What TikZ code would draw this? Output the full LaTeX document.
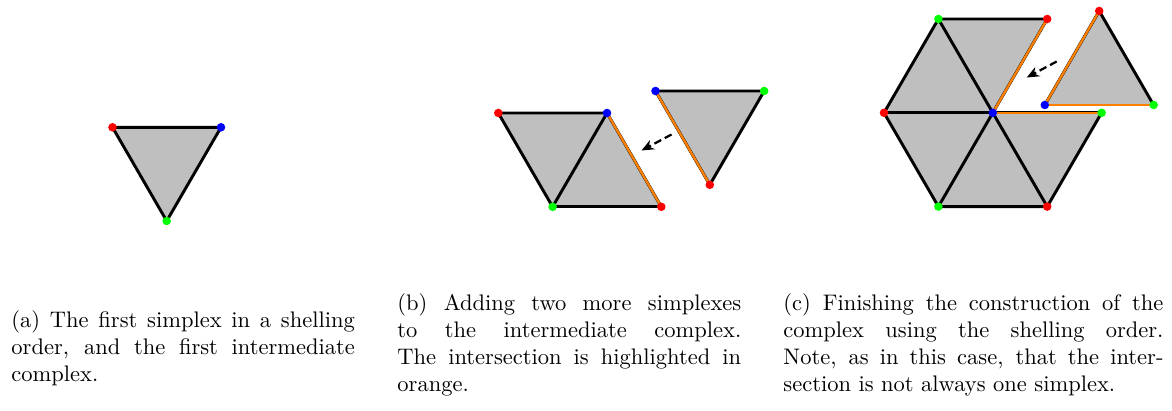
\documentclass[tikz,border=0pt]{standalone}
\usetikzlibrary{arrows.meta}
\begin{document}
\begin{tikzpicture}[x=0.44444pt,y=-0.44444pt,
  face/.style={fill=lightgray},
  edge/.style={draw=black, line width=1.3pt, line cap=round},
  hledge/.style={draw=orange, line width=1.05pt, line cap=round},
  vtx/.style={circle, inner sep=0pt, minimum size=3.8pt, fill=#1},
  movearrow/.style={-{Stealth[length=5.5pt,width=4.6pt]}, line width=1pt, dash pattern=on 3.4pt off 1.8pt},
  captext/.style={anchor=base west, inner sep=0pt, align=justify, font=\normalsize}
]
\useasboundingbox (0,0) rectangle (1172,411);

% ---------- (a) ----------
\coordinate (aR) at (112.5,127.3);
\coordinate (aB) at (221,127.3);
\coordinate (aG) at (166.7,221);
\fill[face] (aR) -- (aB) -- (aG) -- cycle;
\draw[edge] (aR) -- (aB) -- (aG) -- cycle;
\node[vtx=red] (naR) at (aR) {};
\node[vtx=blue] (naB) at (aB) {};
\node[vtx=green] (naG) at (aG) {};

% ---------- (b) ----------
\coordinate (bR1) at (498.3,113);
\coordinate (bB1) at (607,113);
\coordinate (bG1) at (552.6,206.8);
\coordinate (bR2) at (661.3,206.8);
\coordinate (bB2) at (655.5,91);
\coordinate (bG2) at (764.2,91);
\coordinate (bR3) at (709.8,184.8);
\fill[face] (bR1) -- (bB1) -- (bR2) -- (bG1) -- cycle;
\fill[face] (bB2) -- (bG2) -- (bR3) -- cycle;
\draw[edge] (bR1) -- (bB1) -- (bG1) -- cycle;
\draw[edge] (bG1) -- (bR2);
\draw[edge] (bB1) -- (bR2);
\draw[hledge] (bB1) -- (bR2);
\draw[edge] (bB2) -- (bG2) -- (bR3);
\draw[edge] (bB2) -- (bR3);
\draw[hledge] (bB2) -- (bR3);
\node[vtx=red] (nbR1) at (bR1) {};
\node[vtx=blue] (nbB1) at (bB1) {};
\node[vtx=green] (nbG1) at (bG1) {};
\node[vtx=red] (nbR2) at (bR2) {};
\node[vtx=blue] (nbB2) at (bB2) {};
\node[vtx=green] (nbG2) at (bG2) {};
\node[vtx=red] (nbR3) at (bR3) {};
\coordinate (bAs) at (671.5,134.5);
\coordinate (bAe) at (641.5,150.5);
\draw[movearrow] (bAs) -- (bAe);

% ---------- (c) ----------
\coordinate (cC) at (992.8,112.8);
\coordinate (cTL) at (938.4,19);
\coordinate (cTR) at (1047.2,19);
\coordinate (cL) at (884,112.8);
\coordinate (cR) at (1101.6,112.8);
\coordinate (cBL) at (938.4,206.6);
\coordinate (cBR) at (1047.2,206.6);
\coordinate (cT) at (1099.2,11);
\coordinate (cB) at (1044.8,105);
\coordinate (cG) at (1153.6,105);
\fill[face] (cC) -- (cR) -- (cBR) -- (cBL) -- (cL) -- (cTL) -- (cTR) -- cycle;
\fill[face] (cT) -- (cB) -- (cG) -- cycle;
\draw[edge] (cTR) -- (cTL) -- (cL) -- (cBL) -- (cBR) -- (cR);
\draw[edge] (cC) -- (cTL);
\draw[edge] (cC) -- (cL);
\draw[edge] (cC) -- (cBL);
\draw[edge] (cC) -- (cBR);
\draw[edge] (cC) -- (cTR);
\draw[edge] (cC) -- (cR);
\draw[hledge] (cC) -- (cTR);
\draw[hledge] (cC) -- (cR);
\draw[edge] (cT) -- (cG);
\draw[edge] (cB) -- (cT);
\draw[edge] (cB) -- (cG);
\draw[hledge] (cB) -- (cT);
\draw[hledge] (cB) -- (cG);
\node[vtx=green] (ncTL) at (cTL) {};
\node[vtx=red] (ncTR) at (cTR) {};
\node[vtx=red] (ncL) at (cL) {};
\node[vtx=green] (ncR) at (cR) {};
\node[vtx=green] (ncBL) at (cBL) {};
\node[vtx=red] (ncBR) at (cBR) {};
\node[vtx=blue] (ncC) at (cC) {};
\node[vtx=red] (ncT) at (cT) {};
\node[vtx=blue] (ncB) at (cB) {};
\node[vtx=green] (ncG) at (cG) {};
\coordinate (cAs) at (1056.7,61.5);
\coordinate (cAe) at (1026.7,77.5);
\draw[movearrow] (cAs) -- (cAe);

% ---------- captions ----------
\node[captext, text width=152.6pt] (capa) at (11,327.5)
  {(a) The first simplex in a shelling\linebreak order, and the first intermediate\linebreak complex.};
\node[captext, text width=152.8pt] (capb) at (397,310.5)
  {(b) Adding two more simplexes\linebreak to the intermediate complex.\linebreak The intersection is highlighted in\linebreak orange.};
\node[captext, text width=168.9pt] (capc) at (783,310.5)
  {(c) Finishing the construction of the\linebreak complex using the shelling order.\linebreak Note, as in this case, that the inter-\linebreak section is not always one simplex.};
\end{tikzpicture}
\end{document}
